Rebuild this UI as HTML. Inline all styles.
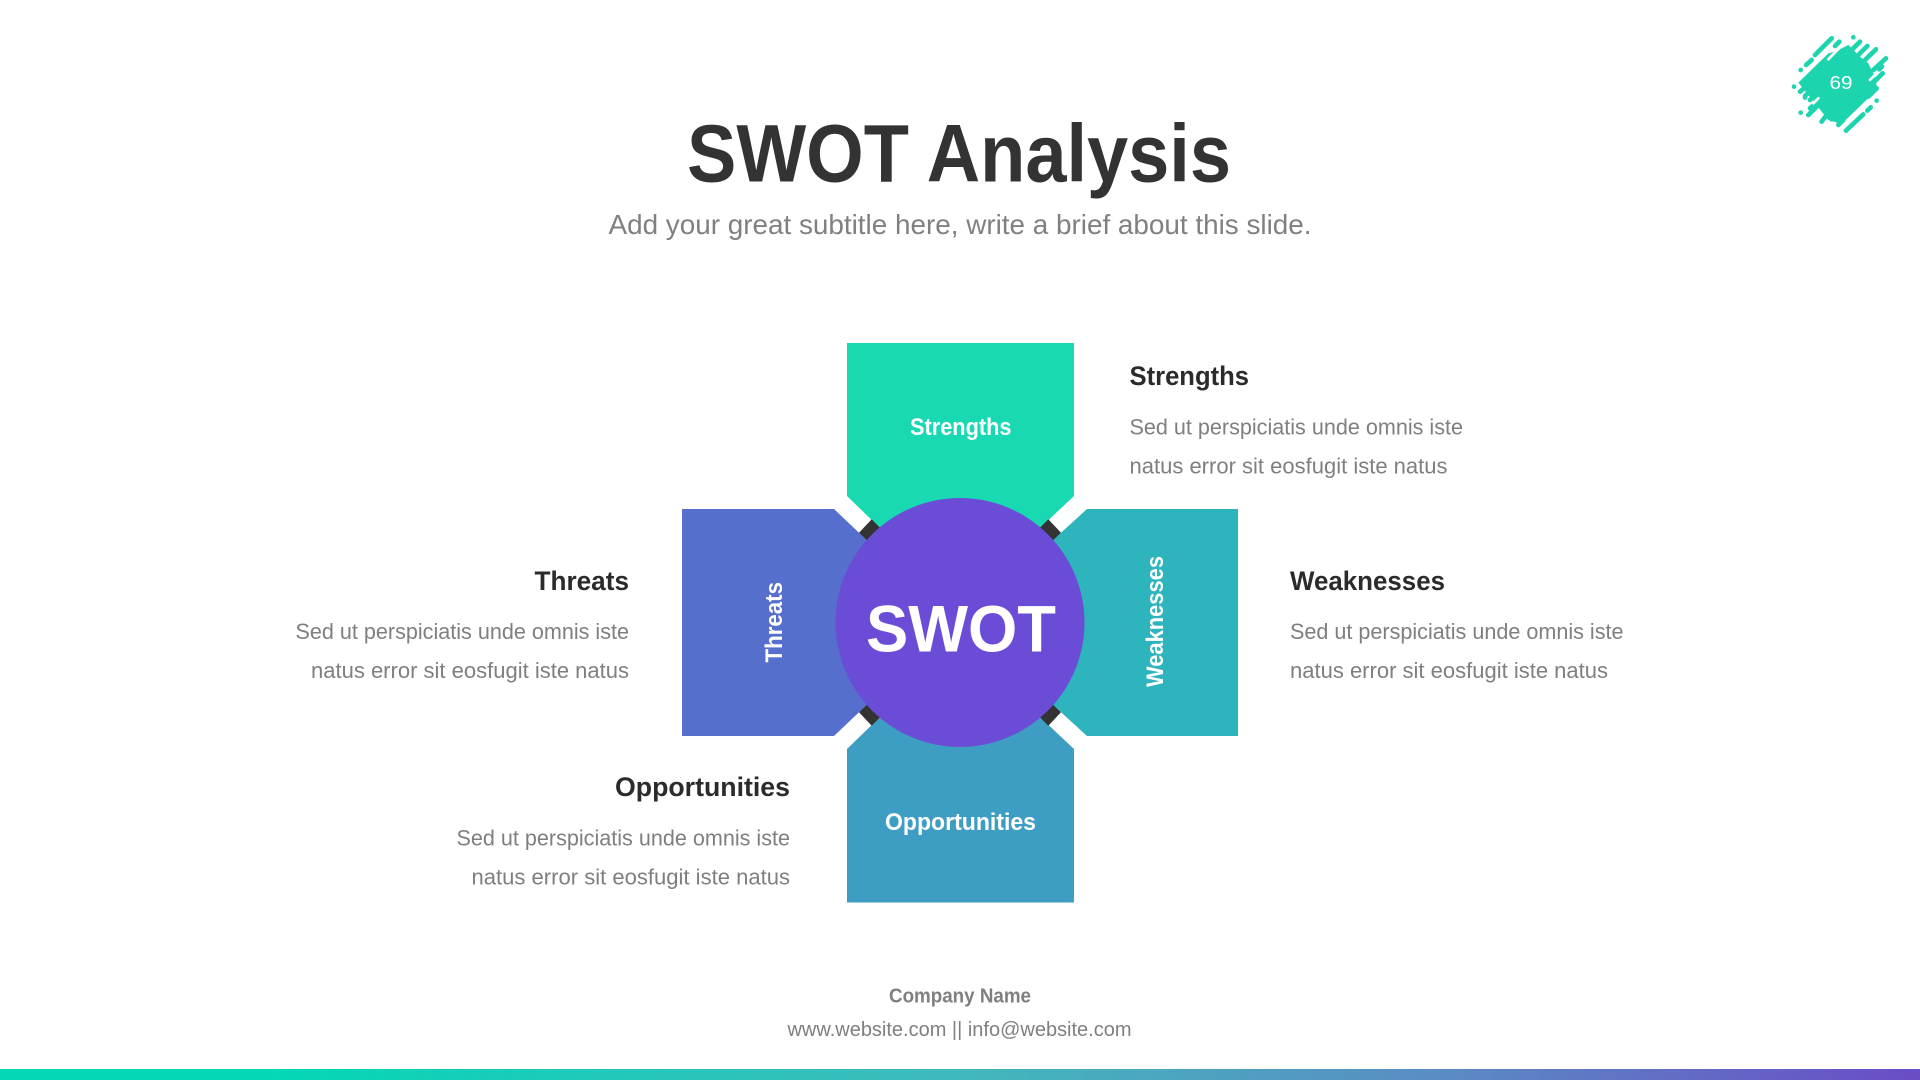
<!DOCTYPE html>
<html><head><meta charset="utf-8"><title>SWOT Analysis</title>
<style>
html,body{margin:0;padding:0;background:#fff;width:1920px;height:1080px;overflow:hidden}
svg{display:block}
text{font-family:"Liberation Sans",sans-serif}
.h{font-weight:700;font-size:27px;fill:#2b2b2b}
.b{font-size:22px;fill:#7f7f7f}
.l{font-weight:700;font-size:24px;fill:#fff}
</style></head><body>
<svg width="1920" height="1080" viewBox="0 0 1920 1080" xmlns="http://www.w3.org/2000/svg">
<defs><linearGradient id="g" x1="0" x2="1" y1="0" y2="0"><stop offset="0" stop-color="#03d8b6"/><stop offset=".14" stop-color="#03d8b6"/><stop offset=".5" stop-color="#40b9bc"/><stop offset=".75" stop-color="#5a8cc4"/><stop offset="1" stop-color="#6a4cc6"/></linearGradient></defs>
<rect x="0" y="1069" width="1920" height="11" fill="url(#g)"/>

<!-- badge -->
<g transform="translate(1760 20) scale(.3333)" fill="#1cd4ae" stroke="#1cd4ae" stroke-width="14" stroke-linecap="round">
<polygon stroke="none" points="115,188 205,100 225,95 265,75 300,110 325,130 345,170 352,208 245,312 205,300 175,262 145,225"/>
<path fill="none" d="M215 55L165 105M238 65L225 78M280 52L280 52M300 65L265 100M322 78L295 105M348 88L305 130M378 115L340 150M366 140L358 148M368 160L345 183M350 205L325 230M350 242L350 242M332 262L322 272M310 283L258 332M155 120L138 135M122 150L122 150M102 200L102 200M132 205L120 215M160 203L135 228M185 205L150 240M135 233L135 233M185 235L150 265M122 278L122 278M170 260L145 285M205 278L185 305M228 285L215 298M250 300L235 315"/>
<path fill="none" stroke="#fff" stroke-width="8" d="M250 72L205 118M160 250L175 235M330 180L345 165"/>
</g>
<text x="1841" y="89" text-anchor="middle" font-size="18" fill="#fff" font-weight="400" textLength="23" lengthAdjust="spacingAndGlyphs">69</text>

<!-- title -->
<text x="687" y="181.5" font-size="82" font-weight="700" fill="#333" textLength="544" lengthAdjust="spacingAndGlyphs">SWOT Analysis</text>
<text x="608.5" y="234" font-size="28" fill="#808080" textLength="703" lengthAdjust="spacingAndGlyphs">Add your great subtitle here, write a brief about this slide.</text>

<!-- petals -->
<polygon fill="#18d9b1" points="847,343 1074,343 1074,496 1040,528 960,622 880,528 847,496"/>
<polygon fill="#2eb4bd" points="1238,509 1087,509 1061,532.7 960,622 1061,712.3 1087,736 1238,736"/>
<polygon fill="#3e9dc3" points="847,902.5 1074,902.5 1074,749 1040,717 960,622 880,717 847,749"/>
<polygon fill="#576fcc" points="682,509 834,509 859,532.7 960,622 859,712.3 834,736 682,736"/>

<!-- dark connectors -->
<polygon fill="#333" points="871.7,519.3 900,548 888,560 859,532.7"/>
<polygon fill="#333" points="1048.3,519.3 1020,548 1032,560 1061,532.7"/>
<polygon fill="#333" points="871.7,725.7 900,697 888,685 859,712.3"/>
<polygon fill="#333" points="1048.3,725.7 1020,697 1032,685 1061,712.3"/>

<circle cx="960" cy="622.5" r="124.5" fill="#6a4cd6"/>
<text x="866" y="651.5" font-size="66" font-weight="700" fill="#fff" textLength="190" lengthAdjust="spacingAndGlyphs">SWOT</text>

<!-- petal labels -->
<text class="l" x="910" y="435" textLength="101.5" lengthAdjust="spacingAndGlyphs">Strengths</text>
<text class="l" x="885" y="830" textLength="151" lengthAdjust="spacingAndGlyphs">Opportunities</text>
<text class="l" transform="translate(1163 687) rotate(-90)" textLength="131" lengthAdjust="spacingAndGlyphs">Weaknesses</text>
<text class="l" transform="translate(782 662.5) rotate(-90)" textLength="80.5" lengthAdjust="spacingAndGlyphs">Threats</text>

<!-- descriptions -->
<text class="h" x="1129.5" y="385" textLength="119.5" lengthAdjust="spacingAndGlyphs">Strengths</text>
<text class="b" x="1129.5" y="434.5" textLength="333.5" lengthAdjust="spacingAndGlyphs">Sed ut perspiciatis unde omnis iste</text>
<text class="b" x="1129.5" y="473.5" textLength="318" lengthAdjust="spacingAndGlyphs">natus error sit eosfugit iste natus</text>

<text class="h" x="1290" y="590" textLength="155" lengthAdjust="spacingAndGlyphs">Weaknesses</text>
<text class="b" x="1290" y="639" textLength="333.5" lengthAdjust="spacingAndGlyphs">Sed ut perspiciatis unde omnis iste</text>
<text class="b" x="1290" y="678" textLength="318" lengthAdjust="spacingAndGlyphs">natus error sit eosfugit iste natus</text>

<text class="h" x="534.5" y="590" textLength="94.5" lengthAdjust="spacingAndGlyphs">Threats</text>
<text class="b" x="295.5" y="639" textLength="333.5" lengthAdjust="spacingAndGlyphs">Sed ut perspiciatis unde omnis iste</text>
<text class="b" x="311" y="678" textLength="318" lengthAdjust="spacingAndGlyphs">natus error sit eosfugit iste natus</text>

<text class="h" x="615" y="796" textLength="175" lengthAdjust="spacingAndGlyphs">Opportunities</text>
<text class="b" x="456.5" y="845.5" textLength="333.5" lengthAdjust="spacingAndGlyphs">Sed ut perspiciatis unde omnis iste</text>
<text class="b" x="471.5" y="884.5" textLength="318.5" lengthAdjust="spacingAndGlyphs">natus error sit eosfugit iste natus</text>

<!-- footer -->
<text x="889" y="1002.7" font-size="20" font-weight="700" fill="#7f7f7f" textLength="142" lengthAdjust="spacingAndGlyphs">Company Name</text>
<text x="787.5" y="1036" font-size="20.5" fill="#7f7f7f" textLength="344" lengthAdjust="spacingAndGlyphs">www.website.com || info@website.com</text>
</svg>
</body></html>
